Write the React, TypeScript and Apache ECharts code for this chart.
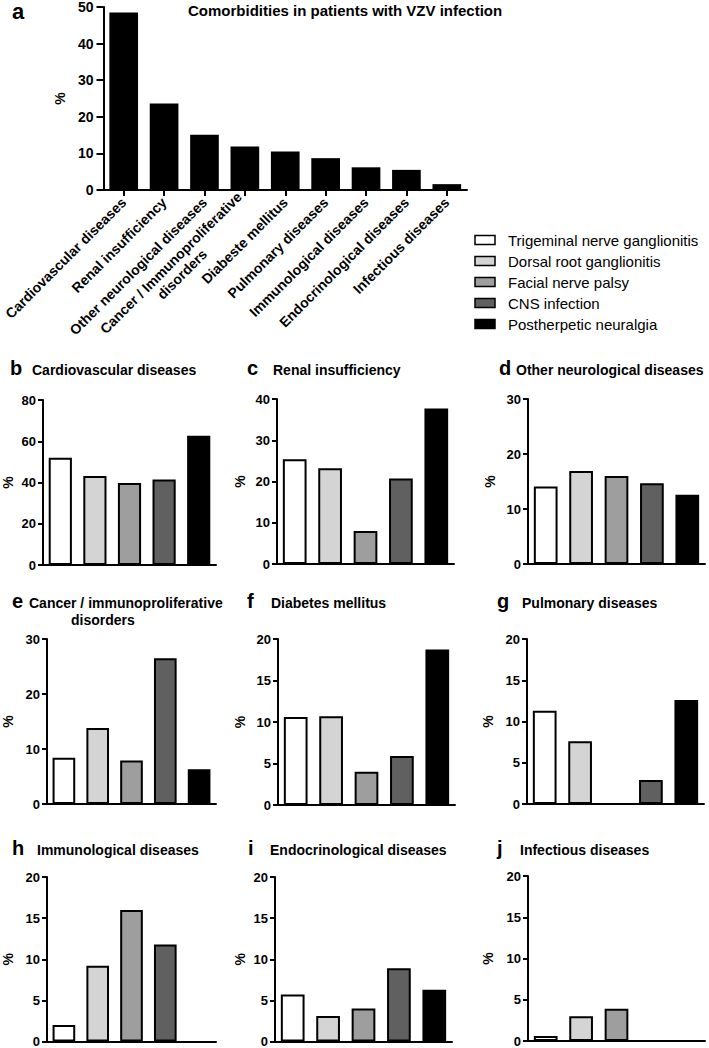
import React, { useEffect, useRef } from "react";
import * as echarts from "echarts";

// ---------- DATA ----------
const overviewTitle = "Comorbidities in patients with VZV infection";
const overviewCategories = [
  "Cardiovascular diseases",
  "Renal insufficiency",
  "Other neurological diseases",
  "Cancer / Immunoproliferative\ndisorders",
  "Diabeste mellitus",
  "Pulmonary diseases",
  "Immunological diseases",
  "Endocrinological diseases",
  "Infectious diseases",
];
const overviewValues = [48.5, 23.6, 15.1, 11.9, 10.5, 8.7, 6.2, 5.5, 1.6];

const groupNames = [
  "Trigeminal nerve ganglionitis",
  "Dorsal root ganglionitis",
  "Facial nerve palsy",
  "CNS infection",
  "Postherpetic neuralgia",
];
const groupColors = ["#ffffff", "#d4d4d4", "#9e9e9e", "#606060", "#000000"];

const panelLetters = ["b", "c", "d", "e", "f", "g", "h", "i", "j"];
const panelTitles = [
  "Cardiovascular diseases",
  "Renal insufficiency",
  "Other neurological diseases",
  "Cancer / immunoproliferative\ndisorders",
  "Diabetes mellitus",
  "Pulmonary diseases",
  "Immunological diseases",
  "Endocrinological diseases",
  "Infectious diseases",
];
const cardiovascular = [52.0, 43.2, 39.8, 41.4, 62.7];
const renal = [25.4, 23.2, 8.0, 20.7, 37.7];
const otherNeuro = [14.1, 16.9, 16.0, 14.7, 12.6];
const cancer = [8.4, 13.8, 7.9, 26.5, 6.3];
const diabetes = [10.6, 10.7, 4.0, 5.9, 18.75];
const pulmonary = [11.3, 7.6, 0, 2.9, 12.6];
const immunological = [2.0, 9.2, 16.0, 11.8, 0];
const endocrinological = [5.7, 3.1, 4.0, 8.9, 6.3];
const infectious = [0.6, 3.0, 3.9, 0, 0];
const panelValues = [
  cardiovascular,
  renal,
  otherNeuro,
  cancer,
  diabetes,
  pulmonary,
  immunological,
  endocrinological,
  infectious,
];
const panelYMax = [80, 40, 30, 30, 20, 20, 20, 20, 20];
const panelYStep = [20, 10, 10, 10, 5, 5, 5, 5, 5];

// ---------- LAYOUT ----------
const panelGrids = [
  [40, 400, 176, 165],
  [277, 399, 177, 165],
  [528, 399, 177, 165],
  [40, 639, 176, 165],
  [278, 639, 177, 166],
  [527, 639, 177, 165],
  [40, 877, 176, 165],
  [275, 877, 177, 165],
  [528, 876, 177, 165],
];
const letterPos = [
  [10, 368], [247, 368], [499, 368],
  [12, 601], [247, 601], [497, 601],
  [12, 848], [248, 848], [497, 848],
];
const titlePos = [
  [32, 370], [273, 370], [516, 370],
  [29, 603], [271, 603], [522, 603],
  [37, 850], [270, 850], [520, 850],
];
const secondLinePos = [71, 620];
const nameGaps = [28, 30, 31, 32, 31, 32, 32, 28, 33];
const legendRowsY = [240, 261, 282, 303, 324];

export default function App() {
  const ref = useRef<HTMLDivElement>(null);

  useEffect(() => {
    const el = ref.current;
    if (!el) return;
    const chart = echarts.init(el, null, { renderer: "svg" });
    const FONT = '"Liberation Sans", Arial, Helvetica, sans-serif';
    const LABEL_SIZE = 14;

    const ctx = document.createElement("canvas").getContext("2d");
    let firstLineW = 200;
    if (ctx) {
      ctx.font = `bold ${LABEL_SIZE}px ${FONT}`;
      firstLineW = ctx.measureText(overviewCategories[3].split("\n")[0]).width;
    }

    const grids: any[] = [{ left: 100, top: 7, width: 367, height: 183 }];
    const xAxes: any[] = [
      {
        type: "category",
        gridIndex: 0,
        data: overviewCategories,
        axisLine: { lineStyle: { color: "#000", width: 2 } },
        axisTick: { show: true, alignWithLabel: true, length: 6, lineStyle: { color: "#000", width: 2 } },
        axisLabel: {
          interval: 0,
          rotate: 45,
          margin: 10,
          color: "#000",
          fontFamily: FONT,
          fontWeight: "bold",
          fontSize: LABEL_SIZE,
          lineHeight: 16,
          formatter: (v: string) => {
            const parts = v.split("\n");
            if (parts.length === 1) return v;
            return `{l|${parts[0]}}\n{m|${parts[1]}}`;
          },
          rich: {
            l: { fontFamily: FONT, fontWeight: "bold", fontSize: LABEL_SIZE, color: "#000", lineHeight: 16 },
            m: {
              fontFamily: FONT,
              fontWeight: "bold",
              fontSize: LABEL_SIZE,
              color: "#000",
              lineHeight: 16,
              width: firstLineW,
              align: "center",
            },
          },
        },
      },
    ];
    const yAxes: any[] = [
      {
        type: "value",
        gridIndex: 0,
        min: 0,
        max: 50,
        interval: 10,
        name: "%",
        nameLocation: "middle",
        nameGap: 37,
        nameTextStyle: { color: "#000", fontFamily: FONT, fontWeight: "bold", fontSize: 14 },
        axisLine: { show: true, lineStyle: { color: "#000", width: 2 } },
        axisTick: { show: true, length: 7, lineStyle: { color: "#000", width: 2 } },
        axisLabel: { color: "#000", fontFamily: FONT, fontWeight: "bold", fontSize: 14, margin: 10 },
        splitLine: { show: false },
      },
    ];
    const series: any[] = [
      {
        type: "bar",
        xAxisIndex: 0,
        yAxisIndex: 0,
        data: overviewValues,
        barCategoryGap: "29%",
        itemStyle: { color: "#000" },
      },
    ];

    panelValues.forEach((vals, i) => {
      const [l, t, w, h] = panelGrids[i];
      grids.push({ left: l, top: t, width: w, height: h });
      xAxes.push({
        type: "category",
        gridIndex: i + 1,
        data: groupNames,
        axisLine: { lineStyle: { color: "#000", width: 2 } },
        axisTick: { show: false },
        axisLabel: { show: false },
      });
      yAxes.push({
        type: "value",
        gridIndex: i + 1,
        min: 0,
        max: panelYMax[i],
        interval: panelYStep[i],
        name: "%",
        nameLocation: "middle",
        nameGap: nameGaps[i],
        nameTextStyle: { color: "#000", fontFamily: FONT, fontWeight: "bold", fontSize: 14 },
        axisLine: { show: true, lineStyle: { color: "#000", width: 2 } },
        axisTick: { show: true, length: 5, lineStyle: { color: "#000", width: 2 } },
        axisLabel: { color: "#000", fontFamily: FONT, fontWeight: "bold", fontSize: 13, margin: 7 },
        splitLine: { show: false },
      });
      series.push({
        type: "bar",
        xAxisIndex: i + 1,
        yAxisIndex: i + 1,
        barCategoryGap: "33%",
        data: vals.map((v, k) => ({
          value: v,
          itemStyle: { color: groupColors[k], borderWidth: v === 0 ? 0 : 2 },
        })),
        itemStyle: { borderColor: "#000", borderWidth: 2 },
      });
    });

    const textEl = (x: number, y: number, text: string, size: number, weight: string) => ({
      type: "text",
      x,
      y,
      style: {
        text,
        fill: "#000",
        fontFamily: FONT,
        fontSize: size,
        fontWeight: weight,
        align: "left",
        verticalAlign: "middle",
        textAlign: "left",
        textVerticalAlign: "middle",
      },
    });

    const graphics: any[] = [];
    graphics.push(textEl(12, 11, "a", 22, "bold"));
    graphics.push(textEl(188, 10, overviewTitle, 15, "bold"));
    panelLetters.forEach((letter, i) => {
      graphics.push(textEl(letterPos[i][0], letterPos[i][1], letter, 20, "bold"));
      const lines = panelTitles[i].split("\n");
      graphics.push(textEl(titlePos[i][0], titlePos[i][1], lines[0], 14, "bold"));
      if (lines.length > 1) {
        graphics.push(textEl(secondLinePos[0], secondLinePos[1], lines[1], 14, "bold"));
      }
    });
    groupNames.forEach((name, k) => {
      const cy = legendRowsY[k];
      graphics.push({
        type: "rect",
        shape: { x: 475, y: cy - 4.5, width: 20, height: 9 },
        style: { fill: groupColors[k], stroke: "#000", lineWidth: 1.5 },
      });
      graphics.push(textEl(508, cy, name, 15, "normal"));
    });

    chart.setOption({
      animation: false,
      backgroundColor: "#fff",
      grid: grids,
      xAxis: xAxes,
      yAxis: yAxes,
      series,
      graphic: graphics,
    });

    return () => chart.dispose();
  }, []);

  return (
    <div
      ref={ref}
      style={{ position: "absolute", left: 0, top: 0, width: 709, height: 1048 }}
    />
  );
}
